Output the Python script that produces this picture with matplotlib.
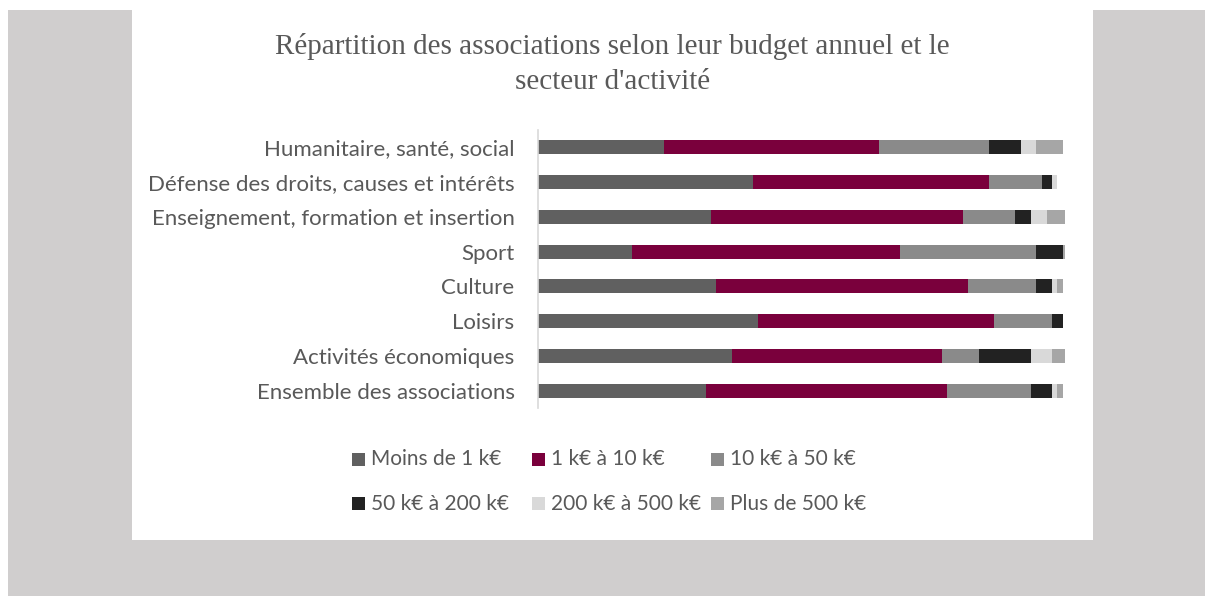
import matplotlib
matplotlib.use("Agg")
import matplotlib.pyplot as plt
from matplotlib.patches import Rectangle
import numpy as np

W, H = 1205, 596

title_lines = ["Répartition des associations selon leur budget annuel et le", "secteur d'activité"]

categories = [
    "Humanitaire, santé, social",
    "Défense des droits, causes et intérêts",
    "Enseignement, formation et insertion",
    "Sport",
    "Culture",
    "Loisirs",
    "Activités économiques",
    "Ensemble des associations",
]

series_names = ["Moins de 1 k€", "1 k€ à 10 k€", "10 k€ à 50 k€",
                "50 k€ à 200 k€", "200 k€ à 500 k€", "Plus de 500 k€"]

moins_1k = [24, 41, 33, 18, 34, 42, 37, 32]
de_1k_10k = [41, 45, 48, 51, 48, 45, 40, 46]
de_10k_50k = [21, 10, 10, 26, 13, 11, 7, 16]
de_50k_200k = [6, 2, 3, 5, 3, 2, 10, 4]
de_200k_500k = [3, 1, 3, 0, 1, 0, 4, 1]
plus_500k = [5, 0, 3.5, 0.4, 1, 0, 2.4, 1]

series = [moins_1k, de_1k_10k, de_10k_50k, de_50k_200k, de_200k_500k, plus_500k]
colors = ["#606060", "#7a003c", "#8a8a8a", "#222222", "#d9d9d9", "#a6a6a6"]

text_color = "#595959"
label_font = ["Lato", "DejaVu Sans"]

fig = plt.figure(figsize=(W / 100, H / 100), dpi=100)
fig.patch.set_facecolor("white")

def fx(x):
    return x / W

def fy(y):
    return 1 - y / H

# background panels
fig.patches.append(Rectangle((fx(8), 0), fx(W) - fx(8), fy(10), transform=fig.transFigure,
                             facecolor="#d0cece", edgecolor="none", zorder=-10))
fig.patches.append(Rectangle((fx(132), fy(540)), fx(1093) - fx(132), fy(10) - fy(540),
                             transform=fig.transFigure, facecolor="white", edgecolor="none", zorder=-9))

# title
fig.text(fx(612.5), fy(47), title_lines[0], ha="center", va="center",
         fontsize=21, family="Liberation Serif", color=text_color)
fig.text(fx(612.5), fy(82), title_lines[1], ha="center", va="center",
         fontsize=21, family="Liberation Serif", color=text_color)

# axes
px_per_pct = 5.252
ax_left, ax_top, ax_bottom = 537.5, 130, 408
xmax = 105
ax = fig.add_axes([fx(ax_left), fy(ax_bottom), xmax * px_per_pct / W, (ax_bottom - ax_top) / H])
ax.set_facecolor("none")

y = np.arange(len(categories))
left = np.zeros(len(categories))
for vals, name, c in zip(series, series_names, colors):
    v = np.array(vals, dtype=float)
    ax.barh(y, v, left=left, height=0.4, color=c, label=name, edgecolor="none")
    left += v

ax.set_xlim(0, xmax)
ax.set_ylim(len(categories) - 0.5, -0.5)
ax.set_yticks(y)
ax.set_yticklabels(categories, fontsize=16, color=text_color, family=label_font)
ax.tick_params(axis="y", length=0, pad=16.5)
ax.set_xticks([])
for s in ["top", "right", "bottom"]:
    ax.spines[s].set_visible(False)
ax.spines["left"].set_color("#d9d9d9")
ax.spines["left"].set_linewidth(1.2)

# legend (manual, row-major like the reference)
col_x = [352, 532, 711]
row_y = [459, 503.5]
sq = 13
for i, (name, c) in enumerate(zip(series_names, colors)):
    r, col = divmod(i, 3)
    x0, y0 = col_x[col], row_y[r]
    fig.patches.append(Rectangle((fx(x0), fy(y0 + sq / 2)), sq / W, sq / H,
                                 transform=fig.transFigure, facecolor=c, edgecolor="none"))
    fig.text(fx(x0 + 19), fy(y0), name, ha="left", va="center", fontsize=15,
             color=text_color, family=label_font)

fig.savefig("out.png", dpi=100, facecolor=fig.get_facecolor())
